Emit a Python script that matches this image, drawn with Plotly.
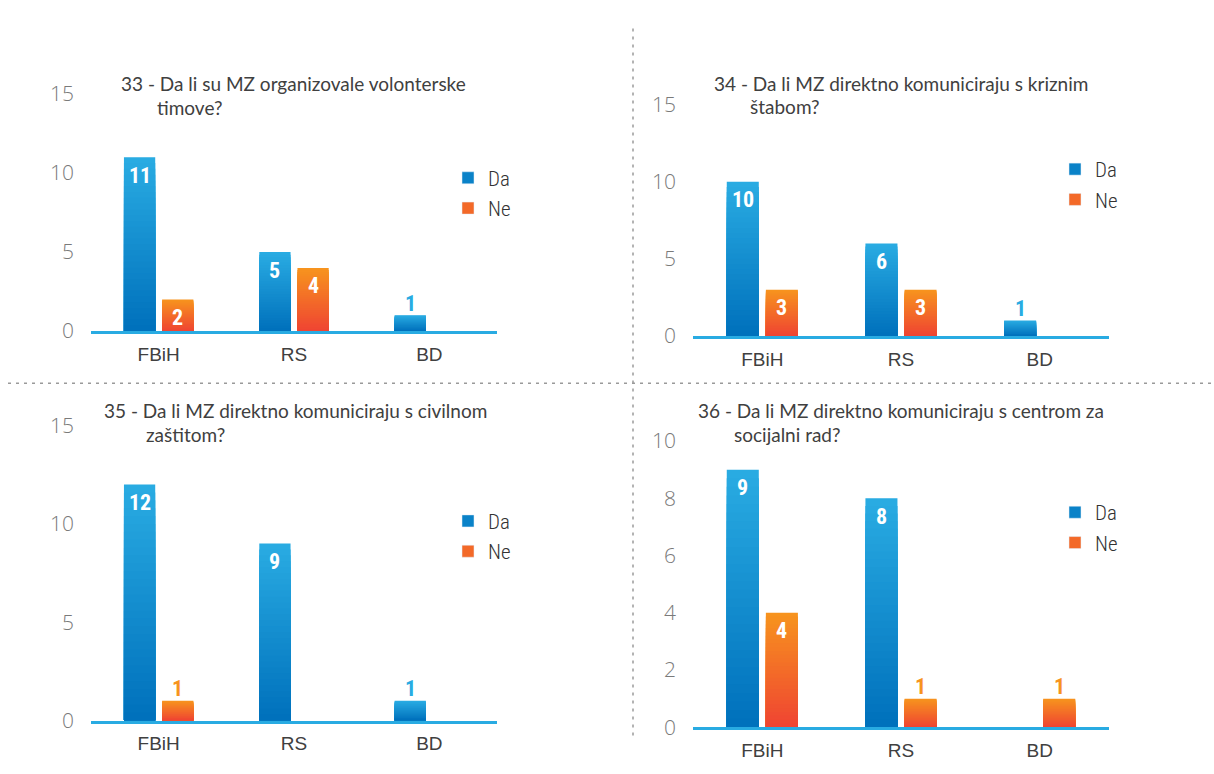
import plotly.graph_objects as go

W, H = 1214, 774

# ---- data -------------------------------------------------------------
categories = ["FBiH", "RS", "BD"]

titles = [
    ("33 - Da li su MZ organizovale volonterske", "timove?"),
    ("34 - Da li MZ direktno komuniciraju s kriznim", "štabom?"),
    ("35 - Da li MZ direktno komuniciraju s civilnom", "zaštitom?"),
    ("36 - Da li MZ direktno komuniciraju s centrom za", "socijalni rad?"),
]

da_33 = [11, 5, 1]
ne_33 = [2, 4, 0]
da_34 = [10, 6, 1]
ne_34 = [3, 3, 0]
da_35 = [12, 9, 1]
ne_35 = [1, 0, 0]
da_36 = [9, 8, 0]
ne_36 = [4, 1, 1]

ticks_15 = [0, 5, 10, 15]
ticks_10 = [0, 2, 4, 6, 8, 10]

panels = [
    dict(da=da_33, ne=ne_33, ticks=ticks_15),
    dict(da=da_34, ne=ne_34, ticks=ticks_15),
    dict(da=da_35, ne=ne_35, ticks=ticks_15),
    dict(da=da_36, ne=ne_36, ticks=ticks_10),
]

# ---- layout geometry (pixels) -----------------------------------------
geom = [
    dict(x0=91, x1=497, y0=328, y1=82,
         t1=(119, 71), t2=(155, 96), leg=(467, 176)),
    dict(x0=693, x1=1109, y0=333, y1=93,
         t1=(712, 71), t2=(748, 95), leg=(1074, 167)),
    dict(x0=91, x1=497, y0=732, y1=426,
         t1=(102, 410), t2=(144, 435), leg=(467, 532)),
    dict(x0=693, x1=1109, y0=739, y1=442,
         t1=(696, 410), t2=(732, 435), leg=(1074, 523)),
]


def px(x):
    return x / W


def py(y):
    return 1 - y / H


# ---- styling ----------------------------------------------------------
BLUE_TOP, BLUE_BOT = (41, 171, 226), (0, 113, 188)
ORNG_TOP, ORNG_BOT = (247, 147, 30), (239, 69, 50)
AXIS_BLUE = "#29abe2"
BAR_W = 0.231
OFF = 0.141
STEPS = 30

LABEL_FONT = "Roboto Condensed, Roboto, sans-serif"
TITLE_FONT = "Lato"
TICK_FONT = "Open Sans"


def mix(a, b, t):
    return "rgb(%d,%d,%d)" % tuple(round(a[i] + (b[i] - a[i]) * t) for i in range(3))


fig = go.Figure()
annotations = []

for p, (pan, g) in enumerate(zip(panels, geom)):
    n = p + 1
    xa = "x" if n == 1 else f"x{n}"
    ya = "y" if n == 1 else f"y{n}"
    idx = list(range(len(categories)))
    xs = [i - OFF for i in idx] + [i + OFF for i in idx]
    vals = pan["da"] + pan["ne"]

    # gradient bars: stacked-over bars of decreasing height, light at top
    for k in range(STEPS):
        t = k / (STEPS - 1)
        frac = (STEPS - k) / STEPS
        colors = [mix(BLUE_TOP, BLUE_BOT, t)] * 3 + [mix(ORNG_TOP, ORNG_BOT, t)] * 3
        fig.add_trace(go.Bar(
            x=xs, y=[v * frac for v in vals], width=BAR_W,
            marker=dict(color=colors, line=dict(width=0)),
            xaxis=xa, yaxis=ya, showlegend=False, hoverinfo="skip",
        ))

    # legend entries
    leg_name = "legend" if n == 1 else f"legend{n}"
    fig.add_trace(go.Bar(x=[None], y=[None], name="Da", marker_color="rgb(10,130,200)",
                         xaxis=xa, yaxis=ya, legend=leg_name, legendgroup=f"da{n}"))
    fig.add_trace(go.Bar(x=[None], y=[None], name="Ne", marker_color="rgb(243,105,40)",
                         xaxis=xa, yaxis=ya, legend=leg_name, legendgroup=f"ne{n}"))

    # value labels
    for series, sgn, out_col in ((pan["da"], -1, "#29abe2"), (pan["ne"], 1, "#f7931e")):
        for i, v in enumerate(series):
            if v <= 0:
                continue
            inside = v >= 2
            annotations.append(dict(
                x=i + sgn * OFF, y=v, xref=xa, yref=ya,
                text=str(v), showarrow=False, yanchor="middle",
                yshift=-18 if inside else 12,
                font=dict(family=LABEL_FONT, size=22, weight="bold",
                          color="white" if inside else out_col),
            ))

    # two-line title
    for (tx, ty), line in zip((g["t1"], g["t2"]), titles[p]):
        annotations.append(dict(
            x=px(tx), y=py(ty), xref="paper", yref="paper",
            xanchor="left", yanchor="middle", text=line, showarrow=False,
            font=dict(family=TITLE_FONT, size=19, color="#404040"),
        ))

    ymax = pan["ticks"][-1]
    layout_x = dict(
        domain=[px(g["x0"]), px(g["x1"])], range=[-0.5, 2.5],
        tickvals=idx, ticktext=categories, showgrid=False, zeroline=False,
        showline=True, linecolor=AXIS_BLUE, linewidth=3, ticks="",
        ticklabelstandoff=4,
        tickfont=dict(family="Liberation Sans", size=19, color="#404040"),
        anchor=ya, fixedrange=True,
    )
    layout_y = dict(
        domain=[py(g["y0"]), py(g["y1"])], range=[0, ymax],
        tickvals=pan["ticks"], showgrid=False, zeroline=False, showline=False,
        ticks="", ticklabelstandoff=16,
        tickfont=dict(family=TICK_FONT, size=21, weight=300, color="#7a7a7a"),
        anchor=xa, fixedrange=True,
    )
    fig.update_layout({("xaxis" if n == 1 else f"xaxis{n}"): layout_x,
                       ("yaxis" if n == 1 else f"yaxis{n}"): layout_y})

    lx, ly = g["leg"]
    fig.update_layout({leg_name: dict(
        x=px(lx - 19), y=py(ly - 28), xanchor="left", yanchor="top",
        bgcolor="rgba(0,0,0,0)", borderwidth=0, tracegroupgap=0,
        traceorder="grouped", itemclick=False, itemdoubleclick=False,
        font=dict(family=LABEL_FONT, size=21, weight=300, color="#333333"),
    )})

# dotted separators between the four panels
shapes = [
    dict(type="line", xref="paper", yref="paper",
         x0=px(633), x1=px(633), y0=py(14), y1=py(750),
         line=dict(color="#9a9a9a", width=1.5, dash="3px,5px")),
    dict(type="line", xref="paper", yref="paper",
         x0=px(8), x1=1, y0=py(382), y1=py(382),
         line=dict(color="#9a9a9a", width=1.5, dash="3px,5px")),
]

fig.update_layout(
    width=W, height=H, margin=dict(l=0, r=0, t=0, b=0),
    paper_bgcolor="white", plot_bgcolor="white",
    barmode="overlay", showlegend=True,
    annotations=annotations, shapes=shapes,
)

fig.write_html("out.html", config={"displayModeBar": False})
